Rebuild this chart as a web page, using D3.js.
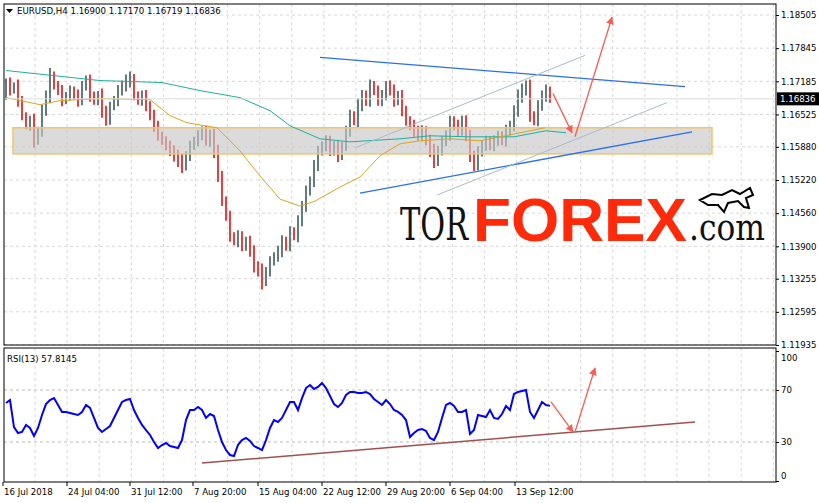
<!DOCTYPE html>
<html lang="en">
<head>
<meta charset="UTF-8">
<title>EURUSD H4</title>
<style>
  body { margin: 0; background: #fff; }
  svg text { font-family: "DejaVu Sans", sans-serif; font-size: 8.6px; fill: #000; }
</style>
</head>
<body>
<svg width="819" height="503"></svg>
<script src="https://d3js.org/d3.v7.min.js"></script>
<script>
// closes per H4 bar (open = previous close)
const closes = [1.1716,1.1700,1.1710,1.1680,1.1650,1.1630,1.1640,1.1600,1.1620,1.1660,1.1690,1.1730,1.1710,1.1700,1.1680,1.1690,1.1700,1.1690,1.1680,1.1710,
  1.1720,1.1690,1.1680,1.1690,1.1660,1.1640,1.1670,1.1680,1.1700,1.1710,1.1720,1.1724,1.1690,1.1680,1.1690,1.1670,1.1650,1.1630,1.1610,1.1600,
  1.1590,1.1580,1.1570,1.1560,1.1550,1.1570,1.1590,1.1600,1.1610,1.1620,1.1600,1.1610,1.1580,1.1530,1.1480,1.1450,1.1410,1.1400,1.1410,1.1390,
  1.1400,1.1380,1.1350,1.1340,1.1320,1.1340,1.1360,1.1370,1.1380,1.1400,1.1390,1.1420,1.1410,1.1440,1.1470,1.1500,1.1520,1.1550,1.1580,1.1590,
  1.1600,1.1580,1.1590,1.1570,1.1590,1.1620,1.1650,1.1640,1.1670,1.1690,1.1680,1.1710,1.1700,1.1680,1.1690,1.1710,1.1700,1.1680,1.1690,1.1660,
  1.1640,1.1630,1.1620,1.1610,1.1620,1.1600,1.1580,1.1560,1.1580,1.1600,1.1610,1.1640,1.1630,1.1620,1.1640,1.1610,1.1570,1.1550,1.1580,1.1590,
  1.1600,1.1590,1.1600,1.1610,1.1600,1.1620,1.1630,1.1660,1.1690,1.1700,1.1710,1.1650,1.1640,1.1670,1.1690,1.1700,1.16836];
// wick extension per bar, in pips
const wicks = [8,10,6,12,9,7,10,14,8,12,10,15,8,9,11,7,10,8,12,9,
  10,12,8,9,14,10,8,9,11,10,12,14,9,8,10,11,9,12,10,8,
  9,10,11,12,14,9,10,8,11,9,10,12,14,12,10,9,11,8,12,10,
  9,11,12,10,16,9,10,8,11,12,9,10,8,12,10,11,9,12,10,9,
  11,10,9,12,8,10,12,9,14,11,10,12,9,10,11,9,10,12,9,11,
  10,9,12,10,11,9,12,14,10,9,11,10,9,12,10,11,12,10,9,11,
  10,9,11,10,9,12,10,11,12,14,10,12,9,11,10,12,8];
// moving averages, knots [bar index, price]
const maSlow = [[0,1.1740],[23.5,1.1720],[39,1.1716],[48.5,1.1700],[58.5,1.1686],[66,1.1660],[71,1.1630],[78.5,1.1604],[86,1.1598],
  [98.5,1.1604],[106,1.1610],[116,1.1608],[127,1.1608],[135,1.1620],[140,1.1616]];
const maFast = [[0,1.1686],[8.5,1.1672],[13.5,1.1680],[23.5,1.1684],[36,1.1682],[41,1.1650],[45.25,1.1636],[52.75,1.1626],[58.5,1.1580],
  [63.5,1.1530],[68.5,1.1484],[73.5,1.1470],[77.25,1.1480],[83.5,1.1508],[88.5,1.1528],[93.5,1.1570],[98.5,1.1594],[103.5,1.1600],
  [111,1.1604],[118.5,1.1600],[128.5,1.1616],[134.75,1.1626]];
const rsi = [60,62.3,41.5,36.9,37.7,43.1,40.8,34.6,40.8,50.8,59.2,62.3,63.8,58.5,53.1,53.1,52.3,51.5,50.8,53.1,
  58.5,56.2,48.5,40.8,37.7,40,42.3,48.5,54.6,60.8,62.3,63.1,54.6,48.5,43.1,39.2,35.4,30,25.4,27.7,
  29.2,26.9,26.2,25.4,31.5,46.9,54.6,54.6,56.9,54.6,48.5,51.5,50,39.2,30,23.8,20,19.2,27.7,31.5,
  33.1,30.8,26.9,25.4,23.8,31.5,40.8,46.9,45.4,48.5,54.6,60.8,60.8,54.6,63.8,71.5,73.8,70.8,72.3,75.4,
  71.5,65.4,59.2,56.9,60,66.2,68.5,68.5,67.7,67.7,68.5,66.9,63.1,60.8,58.5,62.3,59.2,54.6,53.1,50.8,
  46.9,33.8,36.9,39.2,40,38.5,33.1,31.5,37.7,48.5,58.5,60,57.7,53.1,53.1,54.6,36.2,39.2,50.8,50,
  49.2,54.6,48.5,47.7,51.5,57.7,54.6,66.9,68.5,69.2,70,53.1,48.5,54.6,60.8,58.5,57.8];
const priceTicks = [1.18505,1.17845,1.17185,1.16525,1.15880,1.15220,1.14560,1.13900,1.13255,1.12595,1.11935];
const rsiTicks = [100,70,30,0];
const dateLabels = ["16 Jul 2018","24 Jul 04:00","31 Jul 12:00","7 Aug 20:00","15 Aug 04:00","22 Aug 12:00","29 Aug 20:00","6 Sep 04:00","13 Sep 12:00"];
const dateIdx = [-0.75,15.25,31,46.75,63,79,95,111,127.25];
// drawn objects [i1,p1,i2,p2]
const blueLines = [[78.5,1.1766,169.75,1.1708],[88.5,1.1496,171.5,1.1618]];
const channelLines = [[87.25,1.1586,144.75,1.1770],[107.75,1.1492,165.25,1.1676]];
const arrows = [[136.75,1.1694,141.5,1.1616],[142.25,1.1608,151.5,1.1846]];
const zone = [1.75,1.1626,176.5,1.1574];
const rsiTrend = [49,13.8,172.25,45.4];
const rsiArrows = [[136.25,60.8,141.75,37.7],[142.25,37.7,147.25,86.9]];

const svg = d3.select("svg");
const L = 4, R = 776, T = 4, B = 345, RT = 348, RB = 482;
const x = d3.scaleLinear().domain([0, 136]).range([6, 550]);
const y = d3.scaleLinear().domain([1.11935, 1.18505]).range([345, 15]);
const yr = d3.scaleLinear().domain([0, 100]).range([481, 351]);

const defs = svg.append("defs");
defs.append("marker").attr("id", "ah").attr("viewBox", "0 0 10 10").attr("refX", 9).attr("refY", 5)
  .attr("markerWidth", 6).attr("markerHeight", 6).attr("orient", "auto")
  .append("path").attr("d", "M0,0L10,5L0,10Z").attr("fill", "#f55f55");

// grid
const gx = [];
for (let v = 35; v < R; v += 32.1) gx.push(v);
[[T, B], [RT, RB]].forEach(([a, b]) => {
  svg.append("g").selectAll("line").data(gx).join("line")
    .attr("x1", d => d).attr("x2", d => d).attr("y1", a).attr("y2", b)
    .attr("stroke", "#d8d8d8").attr("stroke-dasharray", "3,3");
});
svg.append("g").selectAll("line").data(priceTicks).join("line")
  .attr("x1", L).attr("x2", R).attr("y1", d => y(d)).attr("y2", d => y(d))
  .attr("stroke", "#d8d8d8").attr("stroke-dasharray", "3,3");
svg.append("g").selectAll("line").data([70, 30]).join("line")
  .attr("x1", L).attr("x2", R).attr("y1", d => yr(d)).attr("y2", d => yr(d))
  .attr("stroke", "#bbb").attr("stroke-dasharray", "3,3");

// logo
const logo = svg.append("g");
logo.append("text").attr("x", 400).attr("y", 240).attr("textLength", 68).attr("lengthAdjust", "spacingAndGlyphs")
  .style("font-family", "DejaVu Serif").style("font-size", "44px").style("fill", "#111").text("TOR");
logo.append("text").attr("x", 473).attr("y", 241).attr("textLength", 214).attr("lengthAdjust", "spacingAndGlyphs")
  .style("font-family", "Liberation Sans").style("font-weight", "bold").style("font-size", "62px").style("fill", "#ff2a0a").text("FOREX");
logo.append("text").attr("x", 689).attr("y", 240).attr("textLength", 76).attr("lengthAdjust", "spacingAndGlyphs")
  .style("font-family", "DejaVu Serif").style("font-size", "38px").style("fill", "#111").text(".com");
logo.append("path")
  .attr("d", "M700,200 L712,194 L722,195 L732,190 L740,194 L750,188 L753,195 L746,198 L749,208 L744,207 L738,201 L728,203 L724,212 L718,205 L708,205 Z")
  .attr("fill", "#fff").attr("stroke", "#000").attr("stroke-width", 2);

// bars
const bars = closes.map((c, i) => {
  const o = i === 0 ? 1.1690 : closes[i - 1];
  const w = wicks[i] * 0.0001;
  return { i, o, c, h: Math.max(o, c) + w, l: Math.min(o, c) - w };
});
svg.append("g").selectAll("line").data(bars).join("line")
  .attr("x1", d => x(d.i)).attr("x2", d => x(d.i))
  .attr("y1", d => y(d.h)).attr("y2", d => y(d.l))
  .attr("stroke", d => d.c < d.o ? "#e00000" : "#2f4f4f").attr("stroke-width", 1.5);

// zone
svg.append("rect").attr("x", x(zone[0])).attr("y", y(zone[1]))
  .attr("width", x(zone[2]) - x(zone[0])).attr("height", y(zone[3]) - y(zone[1]))
  .attr("fill", "#c8c8c8").attr("fill-opacity", 0.65).attr("stroke", "#f2c46a").attr("stroke-width", 1.5);

// moving averages
const maLine = d3.line().x(d => x(d[0])).y(d => y(d[1]));
svg.append("path").attr("d", maLine(maSlow)).attr("fill", "none").attr("stroke", "#20b0a0").attr("stroke-width", 1);
svg.append("path").attr("d", maLine(maFast)).attr("fill", "none").attr("stroke", "#daa520").attr("stroke-width", 1);

// current price line
const last = closes[closes.length - 1];
svg.append("line").attr("x1", L).attr("x2", R).attr("y1", y(last)).attr("y2", y(last)).attr("stroke", "#ddd");

const seg = (g, data, sx, sy, color, width, marker) => g.selectAll(null).data(data).join("line")
  .attr("x1", d => sx(d[0])).attr("y1", d => sy(d[1])).attr("x2", d => sx(d[2])).attr("y2", d => sy(d[3]))
  .attr("stroke", color).attr("stroke-width", width).attr("marker-end", marker || null);
seg(svg, blueLines, x, y, "#2a6ff0", 1.3);
seg(svg, channelLines, x, y, "#a8bccc", 1);
seg(svg, arrows, x, y, "#f55f55", 1.3, "url(#ah)");

// RSI
svg.append("path").attr("d", d3.line().x((d, i) => x(i)).y(d => yr(d))(rsi))
  .attr("fill", "none").attr("stroke", "#0000ff").attr("stroke-width", 2);
seg(svg, [rsiTrend], x, yr, "#a05050", 1.5);
seg(svg, rsiArrows, x, yr, "#f55f55", 1.3, "url(#ah)");

// frames
svg.append("rect").attr("x", L).attr("y", T).attr("width", R - L).attr("height", B - T).attr("fill", "none").attr("stroke", "#000");
svg.append("rect").attr("x", L).attr("y", RT).attr("width", R - L).attr("height", RB - RT).attr("fill", "none").attr("stroke", "#000");

// axes
const pa = svg.append("g").attr("transform", `translate(${R},0)`)
  .call(d3.axisRight(y).tickValues(priceTicks).tickFormat(d3.format(".5f")).tickSize(3).tickPadding(2));
pa.select(".domain").remove();
const ra = svg.append("g").attr("transform", `translate(${R},0)`)
  .call(d3.axisRight(yr).tickValues(rsiTicks).tickSize(3).tickPadding(2));
ra.select(".domain").remove();
ra.selectAll("text").attr("dy", d => d === 100 ? "1.05em" : d === 0 ? "-0.25em" : "0.32em");
svg.append("rect").attr("x", R + 1).attr("y", y(last) - 6.5).attr("width", 42).attr("height", 13).attr("fill", "#000");
svg.append("text").attr("x", R + 4).attr("y", y(last) + 3.2).style("fill", "#fff").text(d3.format(".5f")(last));

svg.append("g").selectAll("line").data(dateIdx).join("line")
  .attr("x1", d => x(d)).attr("x2", d => x(d)).attr("y1", RB).attr("y2", RB + 4).attr("stroke", "#000");
svg.append("g").selectAll("text").data(dateLabels).join("text")
  .attr("x", (d, i) => x(dateIdx[i]) + 1).attr("y", 495).text(d => d);

// headers
svg.append("path").attr("d", "M6,9L13,9L9.5,13Z").attr("fill", "#000");
svg.append("text").attr("x", 17).attr("y", 14).text("EURUSD,H4  1.16900 1.17170 1.16719 1.16836");
svg.append("text").attr("x", 7).attr("y", 362).text("RSI(13) 57.8145");
</script>
</body>
</html>
